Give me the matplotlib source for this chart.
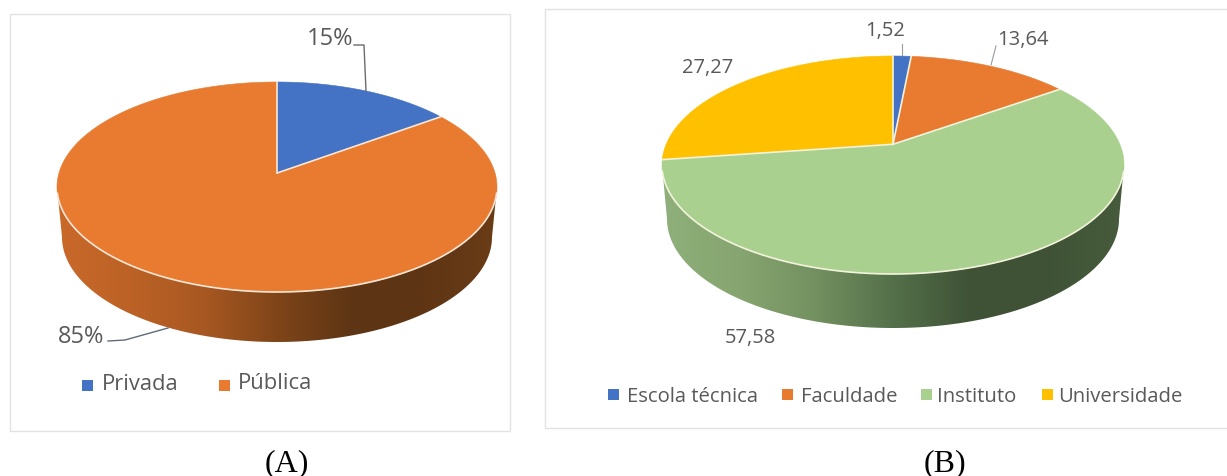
import numpy as np
import matplotlib
matplotlib.use("Agg")
import matplotlib.pyplot as plt
from matplotlib.colors import LinearSegmentedColormap
from matplotlib.patches import Polygon, Rectangle

# data of both pies
names_a = ["Privada", "Pública"]
values_a = [15, 85]
labels_a = ["15%", "85%"]
colors_a = ["#4472C4", "#E97B30"]

names_b = ["Escola técnica", "Faculdade", "Instituto", "Universidade"]
values_b = [1.52, 13.64, 57.58, 27.27]
labels_b = ["1,52", "13,64", "57,58", "27,27"]
colors_b = ["#4472C4", "#E97B30", "#A9D08E", "#FFC000"]

plt.rcParams["font.family"] = ["Open Sans", "DejaVu Sans"]
TEXT = "#595959"

fig = plt.figure(figsize=(12.27, 4.77), dpi=100)
ax = fig.add_axes([0, 0, 1, 1])


def disk_point(theta, cx, cy, rx, ry, a):
    # circle point seen in perspective, a moves the centre towards the back
    x = np.sin(theta)
    y = np.cos(theta)
    yy = (y + a) / (1 + a * y)
    xx = x * np.sqrt(1 - a ** 2) / (1 + a * y)
    return cx + rx * xx, cy - ry * yy


def draw_pie(values, colors, edge, cx, cy, rx, ry, a, depth, shrink, wall_colors):
    # side wall first, with the gradient clipped to its outline
    t = np.linspace(np.pi, 0, 200)
    wall_x = cx + (rx - shrink) * np.cos(t)
    wall_y = cy + depth + ry * np.sin(t)
    outline = [(cx - rx, cy)] + list(zip(wall_x, wall_y)) + [(cx + rx, cy)]
    cmap = LinearSegmentedColormap.from_list("wall", wall_colors)
    img = ax.imshow(np.linspace(0, 1, 256).reshape(1, -1), cmap=cmap, aspect="auto",
                    extent=(cx - rx, cx + rx, cy + depth + ry, cy), zorder=1)
    img.set_clip_path(Polygon(outline, closed=True, transform=ax.transData))

    total = sum(values)
    start = 0
    apex_x, apex_y = cx, cy - ry * a
    for value, color in zip(values, colors):
        end = start + value / total * 2 * np.pi
        th = np.linspace(start, end, max(int(value * 4), 8))
        px, py = disk_point(th, cx, cy, rx, ry, a)
        ax.fill(np.r_[apex_x, px], np.r_[apex_y, py], facecolor=color, edgecolor=color,
                linewidth=0.4, zorder=2)
        # pale line between the slices
        ax.plot([apex_x, px[0]], [apex_y, py[0]], color=edge, linewidth=1.2, zorder=2.5)
        start = end

    # pale rim only along the front of the disc
    t = np.linspace(np.pi - 0.06, 0.06, 200)
    ax.plot(cx + rx * np.cos(t), cy + ry * np.sin(t), color=edge, linewidth=1.2, zorder=2.5)


def legend_item(x, y, color, name, text_x, size, text_y):
    ax.add_patch(Rectangle((x, y - 5.5), 11, 11, facecolor=color, edgecolor="none", zorder=3))
    ax.text(text_x, text_y, name, color=TEXT, fontsize=size, va="center", ha="left", zorder=3)


# panel frames
ax.add_patch(Rectangle((9.5, 14.5), 500.5, 417, facecolor="white", edgecolor="#e2e2e2", linewidth=1))
ax.add_patch(Rectangle((544.5, 9.5), 690, 419, facecolor="white", edgecolor="#e2e2e2", linewidth=1))

draw_pie(values_a, colors_a, "#f8e6d6", 277, 188, 220, 105, 0.133, 50, 5,
         ["#C9692A", "#BC6226", "#A85822", "#7F4519", "#5E3514", "#5F3514", "#6A3C16"])
draw_pie(values_b, colors_b, "#f2f3dc", 893, 166, 231, 109, 0.19, 54, 5,
         ["#8FB07A", "#86A570", "#739060", "#54704A", "#3F5236", "#3F5236", "#475C3C"])

# data labels and leader lines
ax.text(330, 39, labels_a[0], color=TEXT, fontsize=17, ha="center", va="center", zorder=3)
ax.plot([354, 364, 366], [46, 46, 92], color="#6b6b6b", linewidth=1, zorder=3)
ax.text(81, 337, labels_a[1], color=TEXT, fontsize=17, ha="center", va="center", zorder=3)
ax.plot([108, 125, 168], [342, 341, 329], color="#5f6b78", linewidth=1, zorder=3)

ax.text(885, 31, labels_b[0], color=TEXT, fontsize=14.5, ha="center", va="center", zorder=3)
ax.plot([902, 902], [45, 56], color="#9a9a9a", linewidth=0.8, zorder=3)
ax.text(1023, 40, labels_b[1], color=TEXT, fontsize=14.5, ha="center", va="center", zorder=3)
ax.plot([996, 991], [47, 66], color="#9a9a9a", linewidth=0.8, zorder=3)
ax.text(750, 338, labels_b[2], color=TEXT, fontsize=14.5, ha="center", va="center", zorder=3)
ax.text(708, 68, labels_b[3], color=TEXT, fontsize=14.5, ha="center", va="center", zorder=3)

# legends
legend_item(82, 386, colors_a[0], names_a[0], 102, 15.8, 385)
legend_item(219, 386, colors_a[1], names_a[1], 238, 15.8, 384)

for x, text_x, color, name in zip([608, 782, 921, 1042], [627, 801, 937, 1058], colors_b, names_b):
    legend_item(x, 395, color, name, text_x, 14.6, 397)

# panel captions
ax.text(287, 464, "(A)", family="Liberation Serif", color="black", fontsize=23, ha="center", va="center")
ax.text(945, 464, "(B)", family="Liberation Serif", color="black", fontsize=23, ha="center", va="center")

ax.set_xlim(0, 1227)
ax.set_ylim(477, 0)
ax.axis("off")

fig.savefig("out.png", dpi=100, facecolor="white")
